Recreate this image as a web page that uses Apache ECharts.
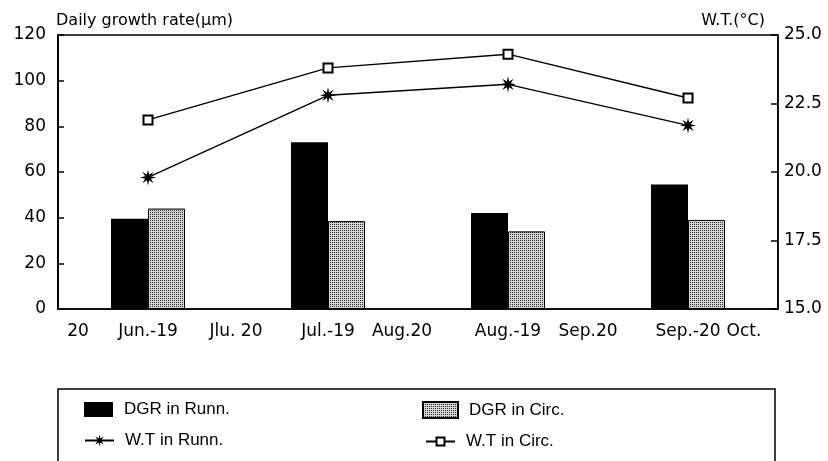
<!DOCTYPE html>
<html>
<head>
<meta charset="utf-8">
<script src="https://cdn.jsdelivr.net/npm/echarts@6/dist/echarts.min.js"></script>
<style>
html,body{margin:0;padding:0;background:#fff;}
#chart{width:828px;height:461px;}
</style>
</head>
<body>
<div id="chart"></div>
<script>
// ---- data ----
const periods = ['Jun.-19', 'Jul.-19', 'Aug.-19', 'Sep.-20'];
const boundaryLabels = ['20', 'Jlu. 20', 'Aug.20', 'Sep.20', 'Oct.'];
const dgrRunn = [39.5, 73, 42, 54.5];
const dgrCirc = [44, 38.5, 34, 39];
const wtRunn = [19.8, 22.8, 23.2, 21.7];
const wtCirc = [21.9, 23.8, 24.3, 22.7];
const leftTicks = {min: 0, max: 120, interval: 20};
const rightTicks = {min: 15, max: 25, interval: 2.5};

// ---- styling helpers ----
function stipple() {
  const c = document.createElement('canvas');
  c.width = 2; c.height = 2;
  const g = c.getContext('2d');
  g.fillStyle = '#d4d4d4'; g.fillRect(0, 0, 2, 2);
  g.fillStyle = '#303030'; g.fillRect(0, 0, 1, 1);
  return {image: c, repeat: 'repeat'};
}
function asteriskPath(n, rIn) {
  let d = '';
  for (let k = 0; k < 2 * n; k++) {
    const a = Math.PI / 2 + k * Math.PI / n;
    const r = k % 2 === 0 ? 1 : rIn;
    const x = (Math.cos(a) * r).toFixed(3), y = (-Math.sin(a) * r).toFixed(3);
    d += (k === 0 ? 'M' : 'L') + x + ' ' + y + ' ';
  }
  return 'path://' + d + 'Z';
}
const FONT = 'DejaVu Sans';
const FS = 17;
const boundaryShift = [
  {padding: [0, 0, 0, 40]},
  {padding: [0, 4, 0, 0]},
  {padding: [0, 32, 0, 0]},
  {padding: [0, 20, 0, 0]},
  {padding: [0, 68, 0, 0]}
];
const rich = {};
boundaryShift.forEach((s, i) => {
  rich['b' + i] = Object.assign({fontFamily: FONT, fontSize: FS, color: '#000'}, s);
});
const legendText = {fontFamily: 'Liberation Sans', fontSize: 17, color: '#000', padding: [0, 0, 0, 6]};
const star = asteriskPath(8, 0.38);

const chart = echarts.init(document.getElementById('chart'), null, {renderer: 'canvas'});
chart.setOption({
  animation: false,
  backgroundColor: '#fff',
  title: [
    {text: 'Daily growth rate(μm)', left: 51, top: 8,
     textStyle: {fontFamily: FONT, fontSize: 16, fontWeight: 'normal', color: '#000'}},
    {text: 'W.T.(°C)', right: 58, top: 8,
     textStyle: {fontFamily: FONT, fontSize: 16, fontWeight: 'normal', color: '#000'}}
  ],
  grid: {left: 58, right: 50, top: 35, bottom: 152, show: true,
         borderColor: '#000', borderWidth: 1.5, backgroundColor: 'transparent'},
  legend: [
    {data: [{name: 'DGR in Runn.', icon: 'rect'}], left: 79, top: 396,
     itemWidth: 29, itemHeight: 15, textStyle: legendText},
    {data: [{name: 'DGR in Circ.', icon: 'rect'}], left: 417, top: 396,
     itemWidth: 35, itemHeight: 16, textStyle: legendText},
    {data: [{name: 'W.T in Runn.'}], left: 79, top: 427,
     itemWidth: 29, itemHeight: 15, textStyle: legendText},
    {data: [{name: 'W.T in Circ.'}], left: 420, top: 428,
     itemWidth: 29, itemHeight: 10, textStyle: legendText}
  ],
  graphic: [
    {type: 'rect', shape: {x: 58, y: 389, width: 717, height: 120},
     style: {fill: 'none', stroke: '#000', lineWidth: 1.5}, silent: true, z: -1}
  ],
  xAxis: [
    {type: 'category', data: periods, boundaryGap: true,
     axisLine: {show: true, lineStyle: {color: '#000', width: 1.5}},
     axisTick: {show: false},
     axisLabel: {margin: 14, interval: 0, fontFamily: FONT, fontSize: FS, color: '#000'}},
    {type: 'category', data: boundaryLabels, boundaryGap: false, position: 'bottom',
     axisLine: {show: false}, axisTick: {show: false}, splitLine: {show: false},
     axisLabel: {margin: 14, interval: 0, color: '#000',
                 formatter: (v, i) => '{b' + i + '|' + v + '}', rich: rich}}
  ],
  yAxis: [
    {type: 'value', min: leftTicks.min, max: leftTicks.max, interval: leftTicks.interval,
     position: 'left',
     axisLine: {show: true, lineStyle: {color: '#000', width: 2}},
     axisTick: {show: true, inside: true, length: 6, lineStyle: {color: '#000', width: 1.5}},
     splitLine: {show: false},
     axisLabel: {margin: 12, fontFamily: FONT, fontSize: FS, color: '#000'}},
    {type: 'value', min: rightTicks.min, max: rightTicks.max, interval: rightTicks.interval,
     position: 'right',
     axisLine: {show: true, lineStyle: {color: '#000', width: 1.5}},
     axisTick: {show: true, inside: true, length: 7, lineStyle: {color: '#000', width: 1.5}},
     splitLine: {show: false},
     axisLabel: {margin: 6, fontFamily: FONT, fontSize: FS, color: '#000',
                 formatter: v => v.toFixed(1)}}
  ],
  series: [
    {name: 'DGR in Runn.', type: 'bar', data: dgrRunn, xAxisIndex: 0, yAxisIndex: 0,
     barWidth: 37, barGap: '0%', itemStyle: {color: '#000'}},
    {name: 'DGR in Circ.', type: 'bar', data: dgrCirc, xAxisIndex: 0, yAxisIndex: 0,
     barWidth: 37, barGap: '0%',
     itemStyle: {color: stipple(), borderColor: '#000', borderWidth: 1}},
    {name: 'W.T in Runn.', type: 'line', data: wtRunn, xAxisIndex: 0, yAxisIndex: 1,
     symbol: star, symbolSize: 16, showAllSymbol: true,
     lineStyle: {color: '#000', width: 1.4}, itemStyle: {color: '#000'}},
    {name: 'W.T in Circ.', type: 'line', data: wtCirc, xAxisIndex: 0, yAxisIndex: 1,
     symbol: 'emptyRect', symbolSize: 9, showAllSymbol: true,
     lineStyle: {color: '#000', width: 1.4},
     itemStyle: {color: '#000', borderColor: '#000', borderWidth: 1.5}}
  ]
});
</script>
</body>
</html>
